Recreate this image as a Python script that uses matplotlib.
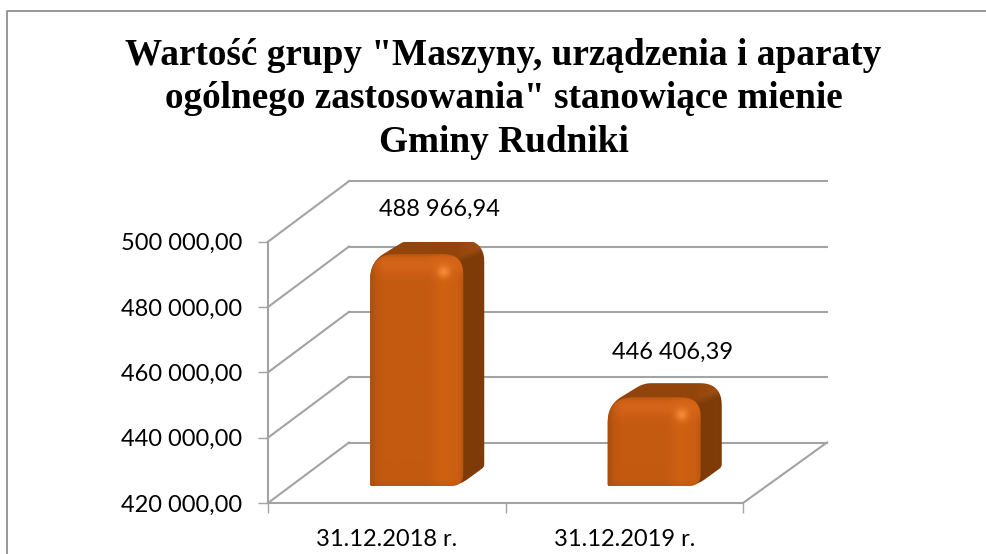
import numpy as np
import matplotlib
matplotlib.use("Agg")
import matplotlib.pyplot as plt
from matplotlib.path import Path
from matplotlib.patches import PathPatch
from matplotlib.lines import Line2D

title_lines = ['Wartość grupy "Maszyny, urządzenia i aparaty',
               'ogólnego zastosowania" stanowiące mienie',
               'Gminy Rudniki']
categories = ['31.12.2018 r.', '31.12.2019 r.']
values = [488966.94, 446406.39]
value_labels = ['488 966,94', '446 406,39']
y_ticks = [420000, 440000, 460000, 480000, 500000]
y_tick_labels = ['420 000,00', '440 000,00', '460 000,00', '480 000,00', '500 000,00']

W, H = 986, 554
fig = plt.figure(figsize=(W / 100, H / 100), dpi=100, facecolor='white')
L, R, B, T = 268, 743, 503, 241.7
ax = fig.add_axes([L / W, (H - B) / H, (R - L) / W, (B - T) / H])
ax.set_facecolor('none')
GREY = '#a3a3a3'
LBL = 'Lato'
FS = 17
ux = 2 / (R - L)
uy = 80000 / (B - T)
DX, DY = 81 * ux, 60.5 * uy
XEND = 2 + 84 * ux

# walls
lw = 1.5
for t in y_ticks:
    ax.plot([0, DX], [t, t + DY], color=GREY, lw=lw, clip_on=False, zorder=1)
    ax.plot([DX, XEND], [t + DY, t + DY], color=GREY, lw=lw, clip_on=False, zorder=1)
ax.plot([2, XEND], [420000, 420000 + DY], color=GREY, lw=lw, clip_on=False, zorder=1)


def rounded(pts, radii, n=12):
    out = []
    pts = np.array(pts, float)
    m = len(pts)
    for i in range(m):
        p, a, b = pts[i], pts[i - 1], pts[(i + 1) % m]
        r = radii[i]
        u = (a - p) / np.hypot(*(a - p))
        v = (b - p) / np.hypot(*(b - p))
        s = p + u * r
        e = p + v * r
        for q in np.linspace(0, 1, n):
            out.append((1 - q) ** 2 * s + 2 * q * (1 - q) * p + q ** 2 * e)
    out = np.array(out)
    return Path(np.vstack([out, out[:1]]), closed=True)


def hex_rgb(c):
    return np.array(matplotlib.colors.to_rgb(c))


def draw_bar(cat_index, value):
    bw = 93
    x0 = cat_index + 0.5 - bw / 2 * ux + 30 * ux
    base = 420000 + 17 * uy
    h = (value - 420000) * 1.03 / uy

    def to_data(path):
        return Path(path.vertices * [ux, uy] + [x0, base], path.codes)

    sil = rounded([(0, 0), (0, h - 8), (36, h + 14), (114, h + 14), (114, 19), (88, 0)],
                  [2, 16, 8, 22, 3, 12])
    fr = rounded([(0, 0), (0, h), (bw, h), (bw, 0)], [2, 26, 20, 12])

    xs = np.arange(-1, 117)
    ys = np.arange(-1, h + 17)
    X, Y = np.meshgrid(xs, ys)
    extent = [x0 + xs[0] * ux, x0 + xs[-1] * ux, base + ys[0] * uy, base + ys[-1] * uy]

    # silhouette shading: top face and side face
    side = hex_rgb('#7e3b08')
    top = hex_rgb('#92450b')
    corner = hex_rgb('#9c4c10')
    t = np.clip((Y - (h - 8 + (X - bw) * 0.4)) / 7, 0, 1)[..., None]
    c = np.clip((X - 85) / 20, 0, 1)[..., None]
    rgb = side * (1 - t) + (top * (1 - c) + corner * c) * t
    side_img = ax.imshow(rgb, origin='lower', aspect='auto', interpolation='bilinear',
                         extent=extent, zorder=3)
    p1 = PathPatch(to_data(sil), transform=ax.transData, fc='none', ec='none')
    ax.add_patch(p1)
    side_img.set_clip_path(p1)

    # front face shading
    stops_x = [0, 6, 14, 58, 72, 88, 93]
    stops_c = [hex_rgb(k) for k in ['#ad4e0d', '#bd5610', '#c45a10', '#c45a10',
                                    '#cf6112', '#ca5e11', '#bb560f']]
    col = np.stack([np.interp(X, stops_x, [s[i] for s in stops_c]) for i in range(3)], axis=-1)
    dt = h - Y
    bev = np.exp(-((dt - 11) / 10) ** 2)[..., None] * np.clip(X / 14, 0, 1)[..., None]
    light = hex_rgb('#d9671b')
    col = col * (1 - 0.75 * bev) + light * 0.75 * bev
    edge = np.clip(1 - dt / 4, 0, 1)[..., None]
    col = col * (1 - 0.45 * edge) + hex_rgb('#a0490c') * 0.45 * edge
    spec = np.exp(-(((X - (bw - 19)) / 6) ** 2 + ((dt - 18) / 6) ** 2))[..., None]
    col = col * (1 - spec) + hex_rgb('#f58a38') * spec
    bot = np.exp(-(Y / 4) ** 2)[..., None]
    col = col * (1 - 0.25 * bot) + hex_rgb('#a84b0c') * 0.25 * bot
    front_img = ax.imshow(col, origin='lower', aspect='auto', interpolation='bilinear',
                          extent=extent, zorder=4)
    p2 = PathPatch(to_data(fr), transform=ax.transData, fc='none', ec='none')
    ax.add_patch(p2)
    front_img.set_clip_path(p2)


for i, v in enumerate(values):
    draw_bar(i, v)

ax.set_xlim(0, 2)
ax.set_ylim(420000, 500000)
for s in ('top', 'right'):
    ax.spines[s].set_visible(False)
for s in ('left', 'bottom'):
    ax.spines[s].set_color(GREY)
    ax.spines[s].set_linewidth(lw)
ax.set_yticks(y_ticks, y_tick_labels, fontsize=FS, family=LBL, color='black')
ax.tick_params(axis='y', length=7.2, width=1.0, color=GREY, pad=11.5)
ax.set_xticks([0, 1, 2], ['', '', ''])
ax.tick_params(axis='x', length=7, width=1.0, color=GREY)
ax.set_xticks([0.5, 1.5], categories, minor=True, fontsize=FS, family=LBL, color='black')
ax.tick_params(axis='x', which='minor', length=0, pad=18.5)

# data labels
for lab, v, px, py in zip(value_labels, values, [439.5, 672.5], [216, 359]):
    fig.text(px / W, 1 - py / H, lab, ha='center', va='baseline',
             fontsize=FS, family=LBL, color='black')

# title
for line, yb in zip(title_lines, [65, 108, 152]):
    fig.text(503.5 / W, 1 - yb / H, line, ha='center', va='baseline', fontsize=26.8,
             family='Liberation Serif', fontweight='bold', color='black')

# chart frame
fig.add_artist(Line2D([7.3 / W, 7.3 / W, 1], [0, 1 - 11 / H, 1 - 11 / H],
                      transform=fig.transFigure, color='#8f8f8f', lw=1.3))

fig.savefig('out.png', dpi=100, facecolor='white')
